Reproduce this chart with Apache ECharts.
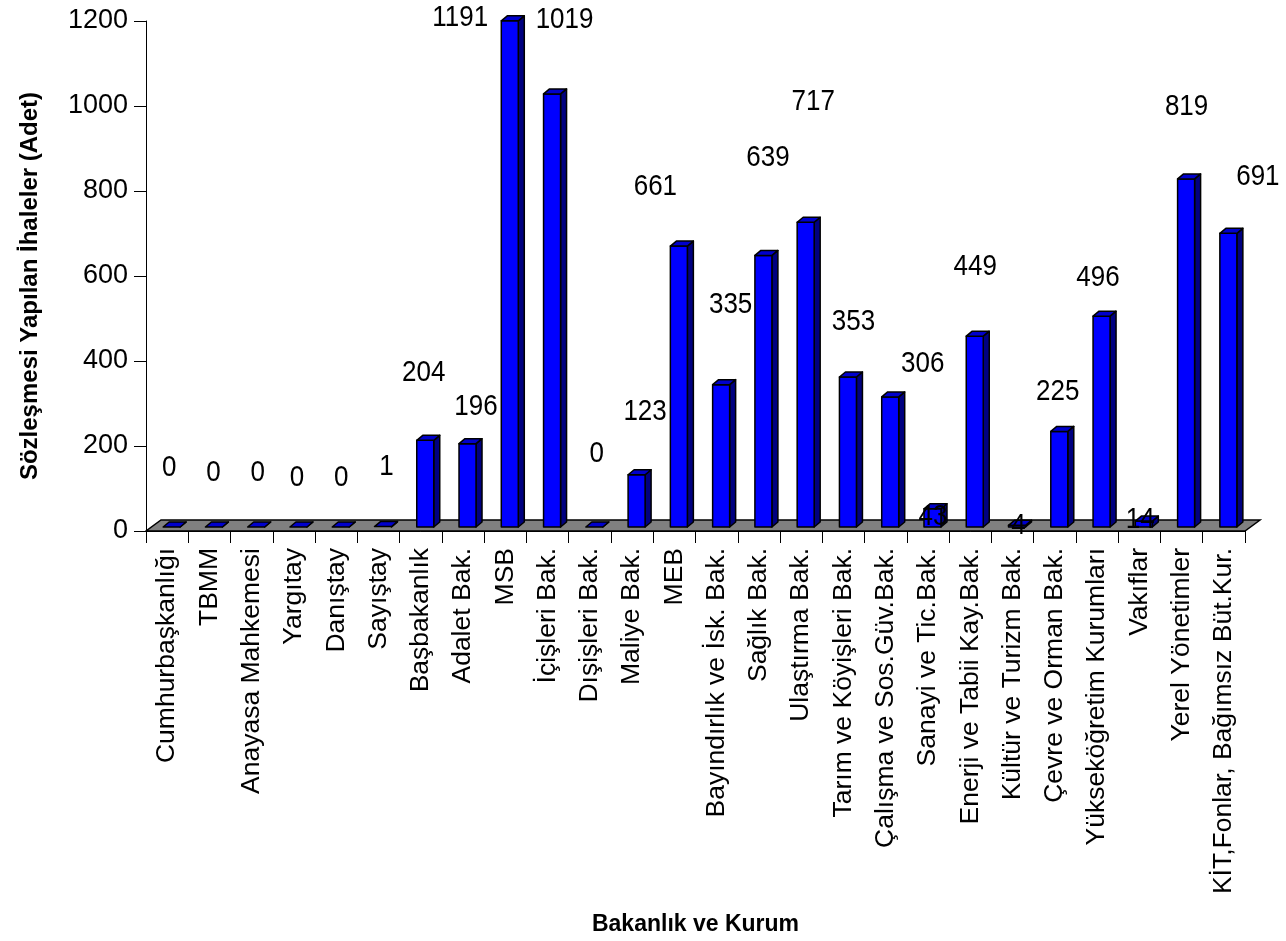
<!DOCTYPE html>
<html><head><meta charset="utf-8">
<script src="https://cdn.jsdelivr.net/npm/echarts@6/dist/echarts.min.js"></script>
<style>html,body{margin:0;padding:0;background:#fff}#c{width:1286px;height:941px}</style>
</head><body><div id="c"></div>
<script>
const categories = ['Cumhurbaşkanlığı','TBMM','Anayasa Mahkemesi','Yargıtay','Danıştay','Sayıştay','Başbakanlık','Adalet Bak.','MSB','İçişleri Bak.','Dışişleri Bak.','Maliye Bak.','MEB','Bayındırlık ve İsk. Bak.','Sağlık Bak.','Ulaştırma Bak.','Tarım ve Köyişleri Bak.','Çalışma ve Sos.Güv.Bak.','Sanayi ve Tic.Bak.','Enerji ve Tabii Kay.Bak.','Kültür ve Turizm Bak.','Çevre ve Orman Bak.','Yükseköğretim Kurumları','Vakıflar','Yerel Yönetimler','KİT,Fonlar, Bağımsız Büt.Kur.'];
const values = [0,0,0,0,0,1,204,196,1191,1019,0,123,661,335,639,717,353,306,43,449,4,225,496,14,819,691];
const yTickMin = 0, yTickMax = 1200, yTickStep = 200;
const yTitle = 'Sözleşmesi Yapılan İhaleler (Adet)';
const xTitle = 'Bakanlık ve Kurum';
// label placement (pixel offsets from the value point), a layout setting
const labelOffsets = [[2,-63],[4,-58],[6,-58],[3,-53],[5,-53],[8,-63],[3,-71],[13,-41],[-45,-7],[17,-78],[7,-77],[13,-67],[-19,-63],[14,-84],[9,-101],[12,-124],[10,-59],[37,-37],[5,4],[5,-73],[6,-3],[3,-43],[1,-42],[1,-5],[5,-76],[34,-60]];

const FONT = '"Liberation Sans", Arial, sans-serif';
const FRONT = '#0000FF', SIDE = '#000080', TOP = '#0000CC';
const FX0 = -4, FX1 = 13, FDY = -4, DX = 6, DY = -5;
const FLOOR_DX = 15, FLOOR_DY = -11;

const chart = echarts.init(document.getElementById('c'), null, {renderer:'canvas'});
const barData = values.map((v, i) => [i, v]);

function renderFloor(params, api) {
  const cs = params.coordSys;
  const x = cs.x, yb = cs.y + cs.height, w = cs.width;
  return {type:'polygon', shape:{points:[[x,yb],[x+w,yb],[x+w+FLOOR_DX,yb+FLOOR_DY],[x+FLOOR_DX,yb+FLOOR_DY]]},
    style:{fill:'#808080', stroke:'#000', lineWidth:1.5}};
}
function renderBar(params, api) {
  const i = api.value(0), v = api.value(1);
  const top = api.coord([i, v]);
  const base = api.coord([i, 0]);
  const cx = top[0];
  const x0 = cx + FX0, x1 = cx + FX1;
  const y0 = top[1] + FDY, y1 = base[1] + FDY;
  const st = (f) => ({fill:f, stroke:'#000', lineWidth:1.5, lineJoin:'round'});
  const ch = [];
  ch.push({type:'polygon', shape:{points:[[x1,y0],[x1+DX,y0+DY],[x1+DX,y1+DY],[x1,y1]]}, style:st(SIDE)});
  if (y1 - y0 > 0.5) ch.push({type:'rect', shape:{x:x0,y:y0,width:x1-x0,height:y1-y0}, style:st(FRONT)});
  ch.push({type:'polygon', shape:{points:[[x0,y0],[x0+DX,y0+DY],[x1+DX,y0+DY],[x1,y0]]}, style:st(TOP)});
  return {type:'group', children:ch};
}
function renderLabel(params, api) {
  const i = api.value(0), v = api.value(1);
  const p = api.coord([i, v]);
  const off = labelOffsets[params.dataIndex];
  return {type:'text', x:p[0]+off[0], y:p[1]+off[1], scaleY:1.1,
    style:{text:String(v), font:'26px ' + FONT, fill:'#000', align:'center', verticalAlign:'middle'}};
}

chart.setOption({
  animation:false,
  backgroundColor:'#fff',
  grid:{left:146, right:41, top:21, bottom:410, containLabel:false},
  xAxis:{type:'category', data:categories, boundaryGap:true,
    name:xTitle, nameLocation:'middle', nameGap:382,
    nameTextStyle:{fontFamily:FONT, fontWeight:'bold', fontSize:23, color:'#000'},
    axisLine:{show:true, lineStyle:{color:'#000', width:1}},
    axisTick:{show:true, length:12, interval:0, alignWithLabel:false, lineStyle:{color:'#000'}},
    axisLabel:{rotate:90, interval:0, fontFamily:FONT, fontSize:26.5, color:'#000', margin:17},
    splitLine:{show:false}},
  yAxis:{type:'value', min:yTickMin, max:yTickMax, interval:yTickStep,
    name:yTitle, nameLocation:'middle', nameGap:104,
    nameTextStyle:{fontFamily:FONT, fontWeight:'bold', fontSize:24, color:'#000', padding:[0,20,0,0]},
    axisLine:{show:true, lineStyle:{color:'#000', width:1}},
    axisTick:{show:true, length:12, lineStyle:{color:'#000'}},
    axisLabel:{fontFamily:FONT, fontSize:27, color:'#000', margin:18, formatter:(v) => String(v)},
    splitLine:{show:false}},
  series:[
    {type:'custom', name:'floor', data:[[0,0]], renderItem:renderFloor, z:1, silent:true},
    {type:'custom', name:'İhaleler', data:barData, renderItem:renderBar, z:2},
    {type:'custom', name:'labels', data:barData, renderItem:renderLabel, z:3, silent:true}
  ]
});
</script>
</body></html>
